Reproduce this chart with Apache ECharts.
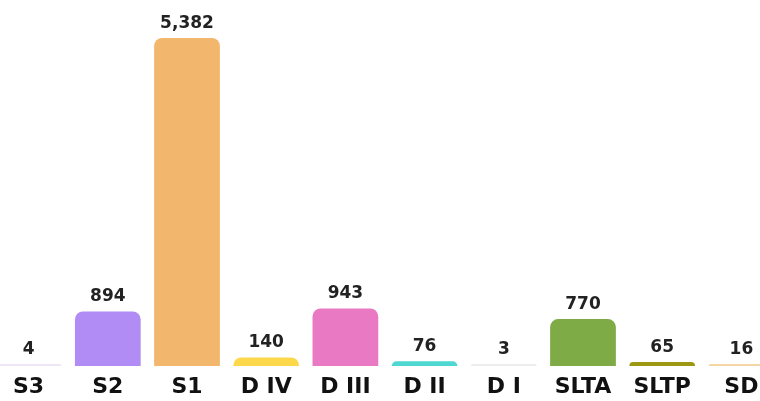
<!DOCTYPE html>
<html>
<head>
<meta charset="utf-8">
<script src="https://cdn.jsdelivr.net/npm/echarts@6/dist/echarts.min.js"></script>
<style>html,body{margin:0;padding:0;background:#fff;overflow:hidden}#c{width:792px;height:401px;margin-left:-11px}</style>
</head>
<body>
<div id="c"></div>
<script>
const categories = ['S3', 'S2', 'S1', 'D IV', 'D III', 'D II', 'D I', 'SLTA', 'SLTP', 'SD'];
const values = [4, 894, 5382, 140, 943, 76, 3, 770, 65, 16];
const colors = ['#eee6f6', '#b08cf4', '#f2b66c', '#fdd84a', '#e879c2', '#4fd8d2', '#ececec', '#7eab46', '#9c9812', '#f6d6a2'];

const chart = echarts.init(document.getElementById('c'));
chart.setOption({
  animation: false,
  grid: { left: 0, right: 0, top: 38, bottom: 35, containLabel: false },
  xAxis: {
    type: 'category',
    data: categories,
    axisLine: { show: false },
    axisTick: { show: false },
    axisLabel: { color: '#111', fontSize: 22, fontWeight: 'bold', fontFamily: 'DejaVu Sans', margin: 10 }
  },
  yAxis: {
    type: 'value',
    min: 0,
    max: 5382,
    show: false,
    splitLine: { show: false }
  },
  series: [{
    type: 'bar',
    barWidth: '83%',
    barMinHeight: 2,
    data: values.map((v, i) => ({ value: v, itemStyle: { color: colors[i] } })),
    itemStyle: { borderRadius: [8, 8, 0, 0] },
    label: {
      show: true,
      position: 'top',
      distance: 6,
      color: '#222',
      fontSize: 17,
      fontWeight: 'bold',
      fontFamily: 'DejaVu Sans',
      formatter: p => p.value.toLocaleString('en-US')
    }
  }]
});
</script>
</body>
</html>
